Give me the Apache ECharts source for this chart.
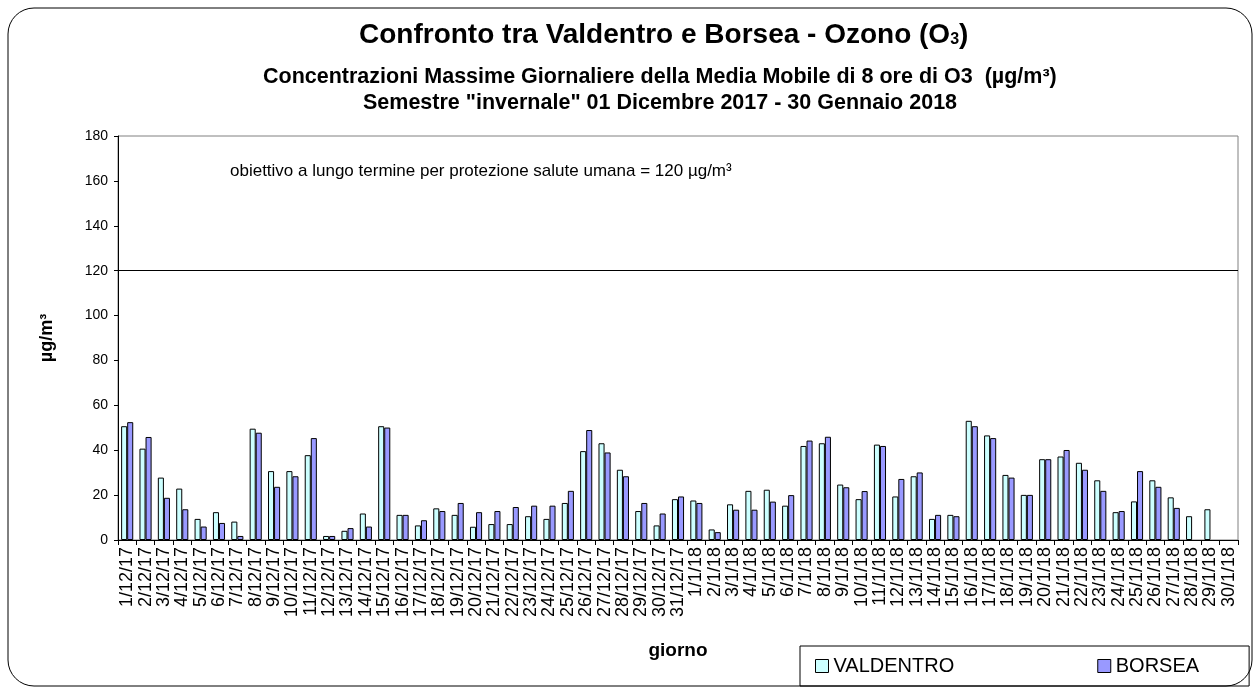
<!DOCTYPE html>
<html><head><meta charset="utf-8">
<script src="https://cdn.jsdelivr.net/npm/echarts@6/dist/echarts.min.js"></script>
<style>html,body{margin:0;padding:0;background:#fff}#c{width:1260px;height:691px}</style>
</head><body><div id="c"></div>
<script>
const categories = ['1/12/17','2/12/17','3/12/17','4/12/17','5/12/17','6/12/17','7/12/17','8/12/17','9/12/17','10/12/17','11/12/17','12/12/17','13/12/17','14/12/17','15/12/17','16/12/17','17/12/17','18/12/17','19/12/17','20/12/17','21/12/17','22/12/17','23/12/17','24/12/17','25/12/17','26/12/17','27/12/17','28/12/17','29/12/17','30/12/17','31/12/17','1/1/18','2/1/18','3/1/18','4/1/18','5/1/18','6/1/18','7/1/18','8/1/18','9/1/18','10/1/18','11/1/18','12/1/18','13/1/18','14/1/18','15/1/18','16/1/18','17/1/18','18/1/18','19/1/18','20/1/18','21/1/18','22/1/18','23/1/18','24/1/18','25/1/18','26/1/18','27/1/18','28/1/18','29/1/18','30/1/18'];
const valdentro = [50.7,40.7,27.8,22.9,9.4,12.4,8.2,49.6,30.7,30.7,37.8,1.8,4.1,11.8,50.7,11.2,6.5,14.1,11.2,5.9,7.1,7.1,10.6,9.4,16.5,39.6,43.1,31.3,12.9,6.5,18.2,17.6,4.7,15.9,21.9,22.4,15.3,41.9,43.1,24.7,18.2,42.5,19.4,28.4,9.4,11.2,53.1,46.6,29.0,20.1,36.0,37.2,34.4,26.6,12.4,17.2,26.6,19.0,10.6,13.7,null];
const borsea = [52.5,45.9,18.8,13.7,6.0,7.6,1.8,47.8,23.7,28.4,45.4,1.8,5.3,6.0,50.1,11.2,8.8,12.9,16.5,12.4,12.9,14.7,15.3,15.3,21.9,49.0,39.0,28.4,16.5,11.8,19.4,16.5,3.5,13.5,13.5,17.1,20.0,44.3,46.0,23.5,21.8,41.9,27.2,30.1,11.2,10.6,50.7,45.4,27.8,20.1,36.0,40.1,31.3,21.9,12.9,30.7,23.7,14.3,null,null,null];
const yTicks = {min:0, max:180, interval:20};
const threshold = 120;

const chart = echarts.init(document.getElementById('c'));
const FONT = 'Liberation Sans, Arial, sans-serif';
chart.setOption({
  animation:false,
  textStyle:{fontFamily:FONT},
  title:[
    {text:'{a|Confronto tra Valdentro e Borsea - Ozono (O}{b|3}{a|)}', left:354, top:16,
     textStyle:{rich:{a:{fontSize:28,fontWeight:'bold',color:'#000',fontFamily:FONT},
                      b:{fontSize:16,fontWeight:'bold',color:'#000',fontFamily:FONT,padding:[10,0,0,0]}}}},
    {text:'Concentrazioni Massime Giornaliere della Media Mobile di 8 ore di O3  (µg/m³)', left:258, top:61,
     textStyle:{fontSize:21.5,fontWeight:'bold',color:'#000',fontFamily:FONT}},
    {text:'Semestre "invernale" 01 Dicembre 2017 - 30 Gennaio 2018', left:358, top:87,
     textStyle:{fontSize:21.5,fontWeight:'bold',color:'#000',fontFamily:FONT}}
  ],
  graphic:[
    {type:'rect', shape:{x:8,y:8,width:1244,height:678,r:26}, style:{fill:'none',stroke:'#000',lineWidth:1}, z:-1},
    {type:'text', left:230, top:163, style:{text:'obiettivo a lungo termine per protezione salute umana = 120 µg/m³', font:'17px '+FONT, fill:'#000'}}
  ],
  legend:{left:800, top:646, orient:'horizontal', itemGap:143,
    padding:[10,50,10,15], borderColor:'#000', borderWidth:1, icon:'rect', itemWidth:13, itemHeight:13,
    textStyle:{fontSize:20,color:'#000',fontFamily:FONT},
    data:[{name:'VALDENTRO',itemStyle:{color:'#CCFFFF',borderColor:'#000',borderWidth:1}},
          {name:'BORSEA',itemStyle:{color:'#9999FF',borderColor:'#000',borderWidth:1}}]},
  grid:{left:118, right:22, top:136, bottom:151, show:true, borderColor:'#808080', borderWidth:1},
  xAxis:{type:'category', data:categories, name:'giorno', nameLocation:'middle', nameGap:101,
    nameTextStyle:{fontSize:19,fontWeight:'bold',color:'#000'},
    axisLine:{lineStyle:{color:'#000'}}, axisTick:{show:true, interval:0, length:5, lineStyle:{color:'#000'}},
    axisLabel:{interval:0, rotate:90, fontSize:18, color:'#000', margin:7}},
  yAxis:{type:'value', min:yTicks.min, max:yTicks.max, interval:yTicks.interval,
    name:'µg/m³', nameLocation:'middle', nameGap:62, nameRotate:90,
    nameTextStyle:{fontSize:18,fontWeight:'bold',color:'#000'},
    axisLine:{show:true,lineStyle:{color:'#000'}}, axisTick:{show:true,length:4,lineStyle:{color:'#000'}},
    splitLine:{show:false}, axisLabel:{fontSize:14,color:'#000',margin:10}},
  series:[
    {name:'VALDENTRO', type:'bar', data:valdentro, barGap:'0%', barCategoryGap:'34%',
     itemStyle:{color:'#CCFFFF', borderColor:'#000', borderWidth:1},
     markLine:{silent:true, symbol:'none', label:{show:false}, lineStyle:{color:'#000',type:'solid',width:1},
       data:[{yAxis:threshold}]}},
    {name:'BORSEA', type:'bar', data:borsea,
     itemStyle:{color:'#9999FF', borderColor:'#000', borderWidth:1}}
  ]
});
</script></body></html>
